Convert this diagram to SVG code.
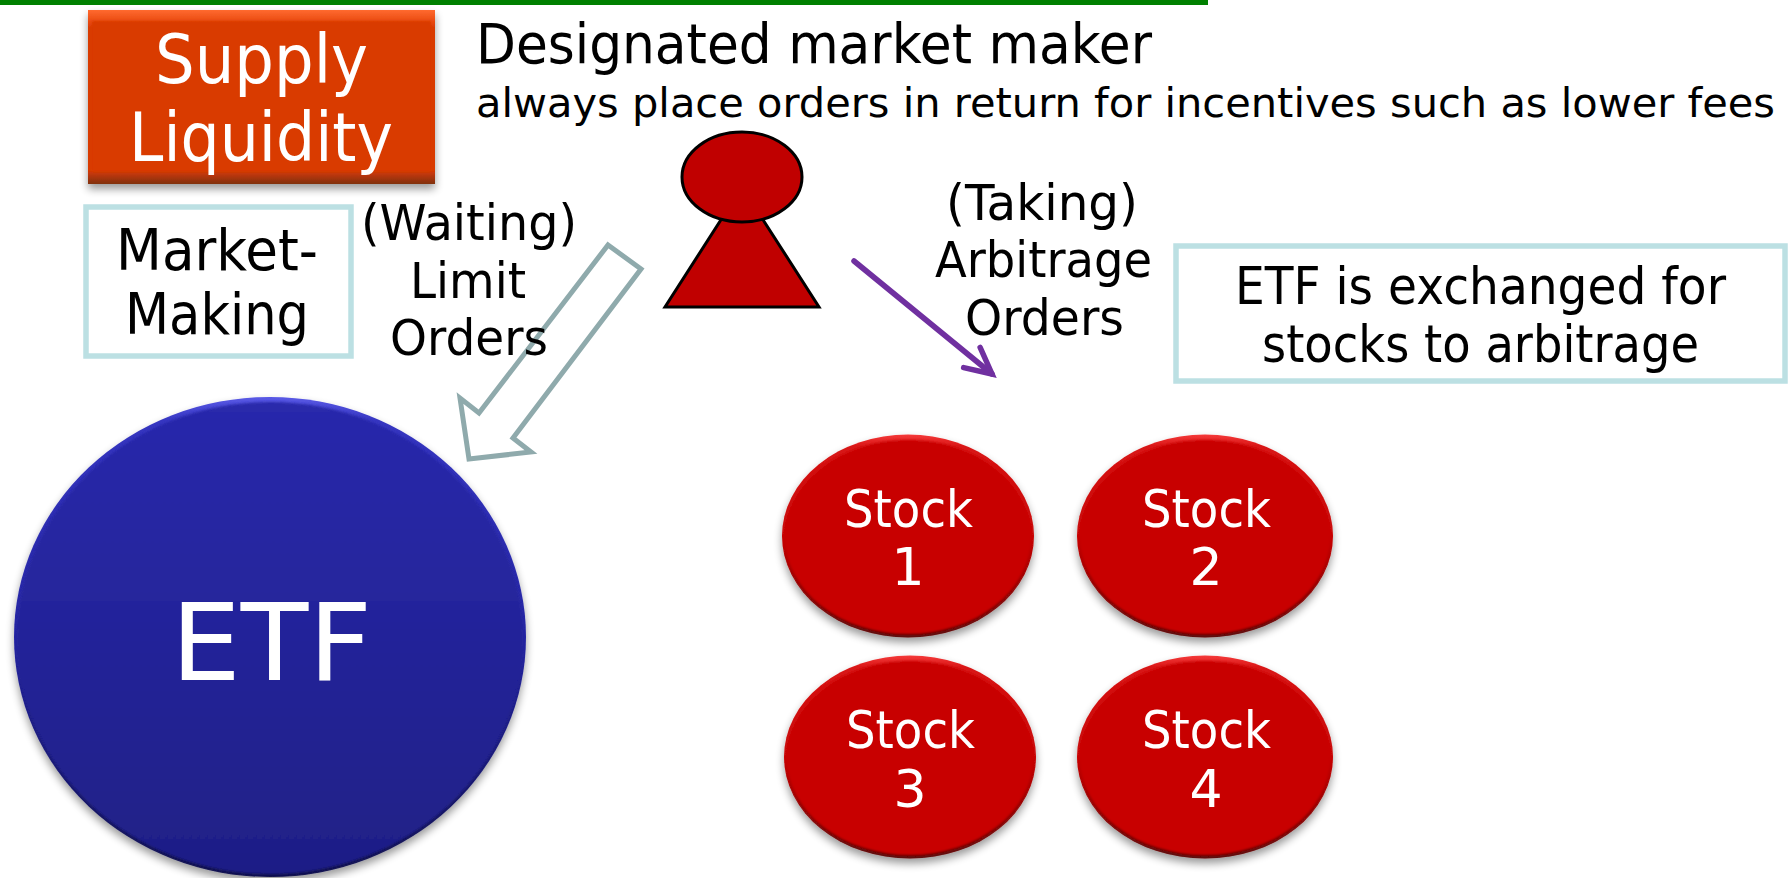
<svg xmlns="http://www.w3.org/2000/svg" width="1792" height="878" viewBox="0 0 1792 878">
<style>
text{font-family:"DejaVu Sans","Liberation Sans",sans-serif;text-anchor:start}
.k{fill:#000}.w{fill:#fff}
.lb{fill:#fff;stroke:#bce0e3;stroke-width:5.500}
.st{font-size:52px;fill:#fff}
</style>
<defs>
<linearGradient id="redEdge" x1="0" y1="0" x2="0" y2="1"><stop offset="0" stop-color="#f53a3a"/><stop offset=".06" stop-color="#d81414"/><stop offset=".5" stop-color="#c80606"/><stop offset="1" stop-color="#5e0808"/></linearGradient>
<linearGradient id="blueEdge" x1="0" y1="0" x2="0" y2="1"><stop offset="0" stop-color="#5a5ae6"/><stop offset=".05" stop-color="#3535c0"/><stop offset=".5" stop-color="#2626a2"/><stop offset="1" stop-color="#12124e"/></linearGradient>
<linearGradient id="blueFill" x1="0" y1="0" x2="0" y2="1"><stop offset="0" stop-color="#2929ac"/><stop offset="1" stop-color="#1f1f86"/></linearGradient>
<linearGradient id="orEdge" x1="0" y1="0" x2="0" y2="1"><stop offset="0" stop-color="#ff6a30"/><stop offset=".07" stop-color="#e8480f"/><stop offset=".1" stop-color="#d93a05"/><stop offset=".92" stop-color="#d93a05"/><stop offset="1" stop-color="#80300f"/></linearGradient>
<filter id="sh" x="-5%" y="-5%" width="110%" height="115%"><feGaussianBlur in="SourceAlpha" stdDeviation="4"/><feOffset dy="5"/><feComponentTransfer><feFuncA type="linear" slope=".4"/></feComponentTransfer><feMerge><feMergeNode/><feMergeNode in="SourceGraphic"/></feMerge></filter>
<filter id="soft"><feGaussianBlur stdDeviation="1.2"/></filter>
<marker id="open" markerUnits="userSpaceOnUse" markerWidth="44" markerHeight="36" refX="30" refY="18" orient="auto"><path d="M4 5L30 18L4 31" fill="none" stroke="#7030a0" stroke-width="5.500" stroke-linecap="round"/></marker>
</defs>
<rect id="topbar" x="0" y="0" width="1208" height="5" fill="#008000"/>

<g id="supply" filter="url(#sh)">
<rect x="88" y="10" width="347" height="174" fill="url(#orEdge)"/>
<rect x="92" y="21" width="339" height="150" fill="#d93a05" filter="url(#soft)"/>
<text class="w" x="155" y="83" font-size="68" textLength="213" lengthAdjust="spacingAndGlyphs">Supply</text>
<text class="w" x="129" y="161" font-size="68" textLength="264" lengthAdjust="spacingAndGlyphs">Liquidity</text>
</g>

<g id="title">
<text class="k" x="476" y="63" font-size="55" textLength="676" lengthAdjust="spacingAndGlyphs">Designated market maker</text>
<text class="k" x="476" y="117" font-size="41" textLength="1299" lengthAdjust="spacingAndGlyphs">always place orders in return for incentives such as lower fees</text>
</g>

<g id="market-making">
<rect class="lb" x="86" y="207" width="265" height="149"/>
<text class="k" x="116" y="270" font-size="57" textLength="202" lengthAdjust="spacingAndGlyphs">Market-</text>
<text class="k" x="125" y="334" font-size="57" textLength="184" lengthAdjust="spacingAndGlyphs">Making</text>
</g>

<g id="maker">
<path d="M742 187L819 307H665Z" fill="#c00000" stroke="#000" stroke-width="3"/>
<ellipse cx="742" cy="177" rx="60" ry="45" fill="#c00000" stroke="#000" stroke-width="3"/>
</g>

<g id="connectors">
<path id="limit-arrow" d="M608 245L641 269L513 438L531 452L469 459L460 398L479 413Z" fill="#fff" stroke="#8faaac" stroke-width="5"/>
<line id="arb-arrow" x1="854" y1="261" x2="992" y2="374" stroke="#7030a0" stroke-width="5.500" stroke-linecap="round" marker-end="url(#open)"/>
</g>

<g id="waiting-label">
<text class="k" x="361" y="240" font-size="50" textLength="216" lengthAdjust="spacingAndGlyphs">(Waiting)</text>
<text class="k" x="410" y="298" font-size="50" textLength="116" lengthAdjust="spacingAndGlyphs">Limit</text>
<text class="k" x="390" y="355" font-size="50" textLength="158" lengthAdjust="spacingAndGlyphs">Orders</text>
</g>

<g id="taking-label">
<text class="k" x="946" y="220" font-size="50" textLength="192" lengthAdjust="spacingAndGlyphs">(Taking)</text>
<text class="k" x="935" y="277" font-size="50" textLength="217" lengthAdjust="spacingAndGlyphs">Arbitrage</text>
<text class="k" x="965" y="335" font-size="50" textLength="159" lengthAdjust="spacingAndGlyphs">Orders</text>
</g>

<g id="exchange-note">
<rect class="lb" x="1176" y="246" width="609" height="135"/>
<text class="k" x="1235" y="304" font-size="52" textLength="491" lengthAdjust="spacingAndGlyphs">ETF is exchanged for</text>
<text class="k" x="1262" y="362" font-size="52" textLength="437" lengthAdjust="spacingAndGlyphs">stocks to arbitrage</text>
</g>

<g id="etf" filter="url(#sh)">
<ellipse cx="270" cy="637" rx="256" ry="240" fill="url(#blueEdge)"/>
<ellipse cx="270" cy="638" rx="253" ry="236" fill="url(#blueFill)" filter="url(#soft)"/>
<text class="w" x="171" y="680" font-size="107" textLength="201" lengthAdjust="spacingAndGlyphs">ETF</text>
</g>

<g id="stock1" filter="url(#sh)">
<ellipse cx="908" cy="536" rx="126" ry="101.500" fill="url(#redEdge)"/>
<ellipse cx="908" cy="537" rx="123" ry="97" fill="#c80606" filter="url(#soft)"/>
<text class="st" x="844" y="527" textLength="129" lengthAdjust="spacingAndGlyphs">Stock</text>
<text class="st" x="908" y="585" style="text-anchor:middle">1</text>
</g>
<g id="stock2" filter="url(#sh)">
<ellipse cx="1205" cy="536" rx="128" ry="101.500" fill="url(#redEdge)"/>
<ellipse cx="1205" cy="537" rx="125" ry="97" fill="#c80606" filter="url(#soft)"/>
<text class="st" x="1142" y="527" textLength="129" lengthAdjust="spacingAndGlyphs">Stock</text>
<text class="st" x="1206" y="585" style="text-anchor:middle">2</text>
</g>
<g id="stock3" filter="url(#sh)">
<ellipse cx="910" cy="757" rx="126" ry="101.500" fill="url(#redEdge)"/>
<ellipse cx="910" cy="758" rx="123" ry="97" fill="#c80606" filter="url(#soft)"/>
<text class="st" x="846" y="748" textLength="129" lengthAdjust="spacingAndGlyphs">Stock</text>
<text class="st" x="910" y="807" style="text-anchor:middle">3</text>
</g>
<g id="stock4" filter="url(#sh)">
<ellipse cx="1205" cy="757" rx="128" ry="101.500" fill="url(#redEdge)"/>
<ellipse cx="1205" cy="758" rx="125" ry="97" fill="#c80606" filter="url(#soft)"/>
<text class="st" x="1142" y="748" textLength="129" lengthAdjust="spacingAndGlyphs">Stock</text>
<text class="st" x="1206" y="807" style="text-anchor:middle">4</text>
</g>
</svg>
